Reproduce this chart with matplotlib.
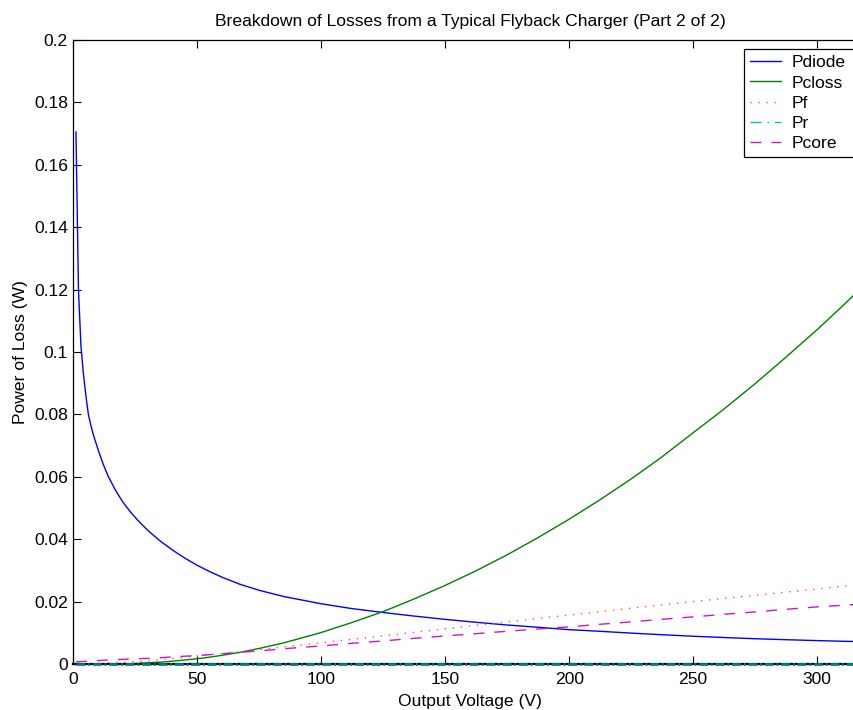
import matplotlib
matplotlib.use('Agg')
import matplotlib.pyplot as plt

plt.rcParams['font.family'] = ['Liberation Sans', 'DejaVu Sans']

# output voltage sweep (V) and the loss terms (W)
vout = [1, 2, 3, 4, 5, 6, 7, 8, 10,
        12, 14, 17, 20, 23, 26, 30, 35, 40,
        45, 50, 55, 60, 67, 75, 85, 100, 112,
        125, 137, 150, 162, 175, 187, 200, 212, 225,
        237, 250, 262, 275, 287, 300, 310, 316, 320]
p_diode = [0.1705, 0.120, 0.102, 0.093, 0.086, 0.080, 0.0765, 0.0735, 0.0685,
           0.0640, 0.0602, 0.0556, 0.0518, 0.0487, 0.0460, 0.0428, 0.0394, 0.0365,
           0.0339, 0.0316, 0.0296, 0.0278, 0.0256, 0.0236, 0.0216, 0.0193, 0.0178,
           0.0165, 0.0154, 0.0143, 0.0134, 0.0125, 0.0118, 0.0110, 0.0105, 0.0099,
           0.0094, 0.0089, 0.0085, 0.0081, 0.0078, 0.0075, 0.0073, 0.0072, 0.0071]
p_closs = [0.0, 0.0, 0.0, 0.0, 0.0, 0.0, 0.0, 0.0, 0.0,
           0.0, 0.0, 0.0, 0.00005, 0.0001, 0.0002, 0.0004, 0.0006, 0.0009,
           0.0013, 0.0017, 0.0022, 0.0028, 0.0037, 0.0050, 0.0068, 0.0101, 0.0132,
           0.0168, 0.0207, 0.0252, 0.0297, 0.0350, 0.0403, 0.0464, 0.0524, 0.0593,
           0.0661, 0.0741, 0.0814, 0.0898, 0.0980, 0.1071, 0.1145, 0.1191, 0.1222]
p_f = [0.0, 0.0, 0.0, 0.0, 0.0, 0.0, 0.0, 0.0, 0.0001,
       0.0002, 0.0003, 0.0004, 0.0005, 0.0007, 0.0008, 0.0010, 0.0014, 0.0018,
       0.0022, 0.0026, 0.0030, 0.0034, 0.0039, 0.0046, 0.0055, 0.0068, 0.0079,
       0.0090, 0.0101, 0.0113, 0.0124, 0.0135, 0.0146, 0.0157, 0.0167, 0.0179,
       0.0189, 0.0200, 0.0210, 0.0220, 0.0230, 0.0240, 0.0249, 0.0254, 0.0257]
p_r = [0.0] * len(vout)
p_core = [0.0007, 0.0007, 0.0008, 0.0008, 0.0009, 0.0009, 0.0010, 0.0010, 0.0011,
          0.0012, 0.0013, 0.0014, 0.0015, 0.0016, 0.0017, 0.0018, 0.0020, 0.0023,
          0.0025, 0.0027, 0.0030, 0.0033, 0.0037, 0.0042, 0.0049, 0.0058, 0.0066,
          0.0074, 0.0082, 0.0090, 0.0097, 0.0105, 0.0112, 0.0119, 0.0127, 0.0135,
          0.0143, 0.0151, 0.0159, 0.0167, 0.0175, 0.0183, 0.0188, 0.0191, 0.0193]

yticks = [0, 0.02, 0.04, 0.06, 0.08, 0.1, 0.12, 0.14, 0.16, 0.18, 0.2]
ytick_labels = ['0', '0.02', '0.04', '0.06', '0.08', '0.1', '0.12', '0.14', '0.16', '0.18', '0.2']
xticks = [0, 50, 100, 150, 200, 250, 300]

fs = 12.6
lw = 1.0
cyan = (0, 0.75, 0.75)

fig = plt.figure(figsize=(8.54, 7.10), dpi=100)
ax = fig.add_axes([73.5 / 854, 46 / 710, 793 / 854, 624 / 710])

ax.plot(vout, p_diode, color=(0, 0, 1), lw=lw, label='Pdiode')
ax.plot(vout, p_closs, color=(0, 0.5, 0), lw=lw, label='Pcloss')
ax.plot(vout, p_f, color=(1, 0.3, 0.3), lw=lw, linestyle=(0, (1, 4.8)), label='Pf')
# Pr sits on the x axis; a darker teal so it reads over the black spine
ax.plot(vout, p_r, color=(0, 0.5, 0.5), lw=2.0, linestyle=(0, (3.2, 1.0, 0.7, 1.0)),
        label='Pr', clip_on=False, zorder=5)
ax.plot(vout, p_core, color=(0.78, 0.1, 0.78), lw=lw, linestyle=(0, (7.9, 7.2)), label='Pcore')

ax.set_xlim(0, 320)
ax.set_ylim(0, 0.2)
ax.set_xticks(xticks)
ax.set_xticklabels([str(t) for t in xticks])
ax.set_yticks(yticks)
ax.set_yticklabels(ytick_labels)
ax.tick_params(direction='in', length=6, width=0.8, top=True, right=True,
               labelsize=fs, colors='black')
ax.tick_params(axis='y', pad=4)
ax.tick_params(axis='x', pad=6)
for s in ax.spines.values():
    s.set_linewidth(0.9)
    s.set_color('black')
ax.spines['bottom'].set_linewidth(1.6)

ax.set_title('Breakdown of Losses from a Typical Flyback Charger (Part 2 of 2)',
             fontsize=fs, pad=10)
ax.set_xlabel('Output Voltage (V)', fontsize=fs, labelpad=5)
ax.set_ylabel('Power of Loss (W)', fontsize=fs, labelpad=4)

leg = ax.legend(loc='upper left', mode='expand',
                bbox_to_anchor=((744 - 73.5) / 793, 1 - 9 / 624, 140 / 793, 0.0),
                fontsize=fs, fancybox=False, framealpha=1, edgecolor='black',
                handlelength=1.75, handletextpad=0.6, labelspacing=0.28,
                borderpad=0.35, borderaxespad=0)
leg.get_frame().set_linewidth(0.9)
pr_handle = leg.get_lines()[3]
pr_handle.set_color(cyan)
pr_handle.set_linewidth(lw)
pr_handle.set_linestyle((0, (7.9, 4.3, 1, 4.3)))

fig.savefig('out.png', dpi=100)
